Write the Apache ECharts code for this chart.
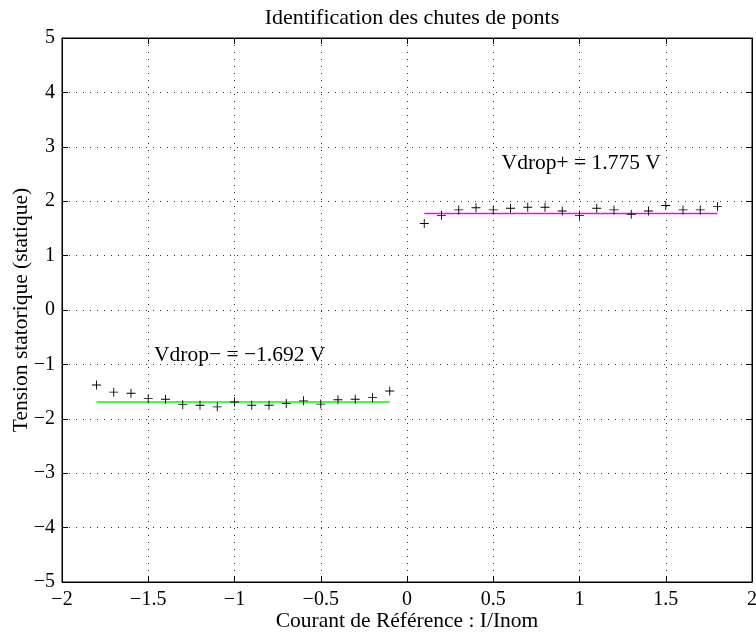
<!DOCTYPE html>
<html>
<head>
<meta charset="utf-8">
<script src="https://cdn.jsdelivr.net/npm/echarts@6/dist/echarts.min.js"></script>
<style>html,body{margin:0;padding:0;background:#fff}#c{width:756px;height:638px}</style>
</head>
<body>
<div id="c"></div>
<script>
var xNeg = [-1.8,-1.7,-1.6,-1.5,-1.4,-1.3,-1.2,-1.1,-1.0,-0.9,-0.8,-0.7,-0.6,-0.5,-0.4,-0.3,-0.2,-0.1];
var yNeg = [-1.38,-1.51,-1.53,-1.63,-1.64,-1.74,-1.75,-1.78,-1.69,-1.75,-1.75,-1.72,-1.67,-1.73,-1.65,-1.64,-1.61,-1.49];
var xPos = [0.1,0.2,0.3,0.4,0.5,0.6,0.7,0.8,0.9,1.0,1.1,1.2,1.3,1.4,1.5,1.6,1.7,1.8];
var yPos = [1.59,1.74,1.84,1.88,1.84,1.87,1.89,1.89,1.82,1.74,1.87,1.84,1.76,1.82,1.92,1.84,1.84,1.90];
var vdropNeg = -1.692;
var vdropPos = 1.775;
var fitNegX = [-1.8, -0.1];
var fitPosX = [0.1, 1.8];
var labelNeg = {x: -0.97, y: -0.83, text: 'Vdrop\u2212 = \u22121.692 V'};
var labelPos = {x: 1.01, y: 2.70, text: 'Vdrop+ = 1.775 V'};
var titleText = 'Identification des chutes de ponts';
var xName = 'Courant de R\u00e9f\u00e9rence : I/Inom';
var yName = 'Tension statorique (statique)';

var FONT = "'Liberation Serif','Times New Roman',serif";
function fmt(v){ return String(v).replace('-', '\u2212'); }
function pairs(xs, ys){ return xs.map(function(x,i){ return [x, ys[i]]; }); }

var plus = 'path://M3.6,0h0.8v8h-0.8zM0,3.6h8v0.8h-8z';
var grid = {type:[1,6], color:'#333', width:1};

var chart = echarts.init(document.getElementById('c'));
chart.setOption({
  animation: false,
  title: {text: titleText, left: 407, top: 2, textAlign: 'center',
    textStyle: {fontFamily: FONT, fontSize: 22, fontWeight: 'normal', color: '#000'}},
  grid: {left: 62, top: 38, right: 4, bottom: 56, show: true, borderColor: '#000', borderWidth: 1,
    outerBoundsMode: 'none', containLabel: false},
  xAxis: [{
    type: 'value', min: -2, max: 2, interval: 0.5,
    name: xName, nameLocation: 'middle', nameGap: 28, nameMoveOverlap: false,
    nameTextStyle: {fontFamily: FONT, fontSize: 21.5, color: '#000'},
    axisLine: {show: true, onZero: false, lineStyle: {color: '#000'}},
    axisTick: {inside: true, length: 6, lineStyle: {color: '#000'}},
    axisLabel: {fontFamily: FONT, fontSize: 20, color: '#000', margin: 8, formatter: fmt},
    splitLine: {show: true, lineStyle: grid}
  },{
    type: 'value', min: -2, max: 2, interval: 0.5, position: 'top',
    axisLine: {show: true, onZero: false, lineStyle: {color: '#000'}},
    axisTick: {inside: true, length: 6, lineStyle: {color: '#000'}},
    axisLabel: {show: false}, splitLine: {show: false}
  }],
  yAxis: [{
    type: 'value', min: -5, max: 5, interval: 1,
    name: yName, nameLocation: 'middle', nameGap: 30, nameMoveOverlap: false,
    nameTextStyle: {fontFamily: FONT, fontSize: 21.5, color: '#000'},
    axisLine: {show: true, onZero: false, lineStyle: {color: '#000'}},
    axisTick: {inside: true, length: 6, lineStyle: {color: '#000'}},
    axisLabel: {fontFamily: FONT, fontSize: 20, color: '#000', margin: 7, formatter: fmt},
    splitLine: {show: true, lineStyle: grid}
  },{
    type: 'value', min: -5, max: 5, interval: 1, position: 'right',
    axisLine: {show: true, onZero: false, lineStyle: {color: '#000'}},
    axisTick: {inside: true, length: 6, lineStyle: {color: '#000'}},
    axisLabel: {show: false}, splitLine: {show: false}
  }],
  series: [
    {type: 'line', data: pairs(fitNegX, [vdropNeg, vdropNeg]), symbol: 'none',
     lineStyle: {color: '#00ff00', width: 1.5}, z: 2},
    {type: 'line', data: pairs(fitPosX, [vdropPos, vdropPos]), symbol: 'none',
     lineStyle: {color: '#ff00ff', width: 1.5}, z: 2},
    {type: 'scatter', data: pairs(xNeg, yNeg), symbol: plus, symbolSize: 9,
     itemStyle: {color: '#000', opacity: 1}, z: 3},
    {type: 'scatter', data: pairs(xPos, yPos), symbol: plus, symbolSize: 9,
     itemStyle: {color: '#000', opacity: 1}, z: 3},
    {type: 'scatter', symbolSize: 0, z: 4, silent: true,
     itemStyle: {opacity: 1},
     data: [[labelNeg.x, labelNeg.y, labelNeg.text], [labelPos.x, labelPos.y, labelPos.text]],
     label: {show: true, position: 'inside', formatter: function(p){ return p.data[2]; },
       fontFamily: FONT, fontSize: 21.5, color: '#000'}}
  ]
});
</script>
</body>
</html>
